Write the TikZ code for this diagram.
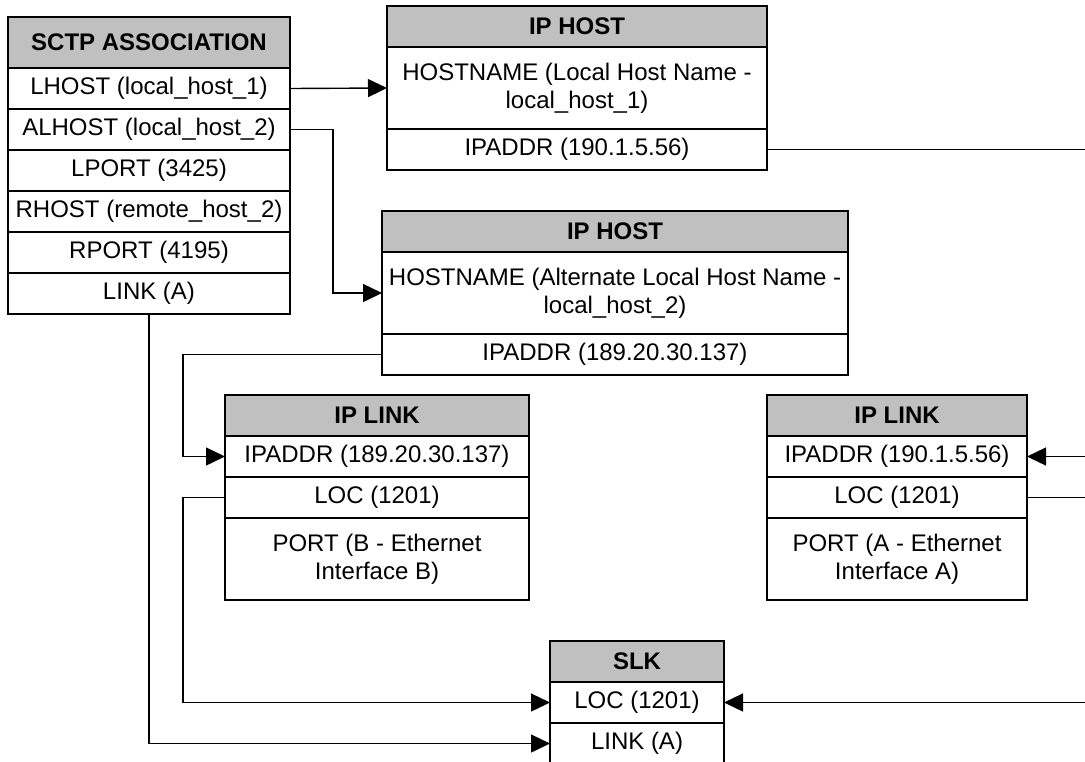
\documentclass[tikz,border=0pt]{standalone}
\usepackage{fontspec}
\setmainfont{Liberation Sans}
\usetikzlibrary{arrows.meta,positioning}
\definecolor{hdrgray}{RGB}{192,192,192}

\begin{document}
\begin{tikzpicture}[x=0.5pt, y=-0.5pt, >={Triangle[length=9.5pt,width=9pt]}, line width=0.7pt,
	cell/.style={draw, outer sep=0pt, inner sep=0pt, align=center, minimum width=#1,
		minimum height=20.5pt, font=\fontsize{12}{14}\selectfont},
	head/.style={cell=#1, fill=hdrgray, font=\fontsize{12}{14}\selectfont\bfseries},
	tall/.style={cell=#1, minimum height=41pt}]
	
	% frame of the picture
	\useasboundingbox (0,0) rectangle (1085,761);
	
	% sctp association
	\node[head=141pt, minimum height=25.5pt, anchor=north west] (sctp) at (8,17) {SCTP ASSOCIATION};
	\node[cell=141pt, below=0pt of sctp] (lhost) {LHOST (local\_host\_1)};
	\node[cell=141pt, below=0pt of lhost] (alhost) {ALHOST (local\_host\_2)};
	\node[cell=141pt, below=0pt of alhost] (lport) {LPORT (3425)};
	\node[cell=141pt, below=0pt of lport] (rhost) {RHOST (remote\_host\_2)};
	\node[cell=141pt, below=0pt of rhost] (rport) {RPORT (4195)};
	\node[cell=141pt, below=0pt of rport] (link) {LINK (A)};
	
	% ip host (local host)
	\node[head=190pt, anchor=north west] (host1) at (387,6) {IP HOST};
	\node[tall=190pt, below=0pt of host1] (hn1) {HOSTNAME (Local Host Name -\\local\_host\_1)};
	\node[cell=190pt, below=0pt of hn1] (ip1) {IPADDR (190.1.5.56)};
	
	% ip host (alternate local host)
	\node[head=233pt, anchor=north west] (host2) at (382,211) {IP HOST};
	\node[tall=233pt, below=0pt of host2] (hn2) {HOSTNAME (Alternate Local Host Name -\\local\_host\_2)};
	\node[cell=233pt, below=0pt of hn2] (ip2) {IPADDR (189.20.30.137)};
	
	% ip link B
	\node[head=152pt, anchor=north west] (linkB) at (225,395) {IP LINK};
	\node[cell=152pt, below=0pt of linkB] (ipaddrB) {IPADDR (189.20.30.137)};
	\node[cell=152pt, below=0pt of ipaddrB] (locB) {LOC (1201)};
	\node[tall=152pt, below=0pt of locB] (portB) {PORT (B - Ethernet\\Interface B)};
	
	% ip link A
	\node[head=130pt, anchor=north west] (linkA) at (767,395) {IP LINK};
	\node[cell=130pt, below=0pt of linkA] (ipaddrA) {IPADDR (190.1.5.56)};
	\node[cell=130pt, below=0pt of ipaddrA] (locA) {LOC (1201)};
	\node[tall=130pt, below=0pt of locA] (portA) {PORT (A - Ethernet\\Interface A)};
	
	% slk
	\node[head=87pt, anchor=north west] (slk) at (550,641) {SLK};
	\node[cell=87pt, below=0pt of slk] (slkloc) {LOC (1201)};
	\node[cell=87pt, below=0pt of slkloc] (slklink) {LINK (A)};
	
	% free ends at the right edge
	\coordinate (edgehost) at (ip1.east -| 1085,0);
	\coordinate (edgeaddr) at (ipaddrA.east -| edgehost);
	\coordinate (edgeloc) at (locA.east -| edgehost);
	\coordinate (edgeslk) at (slkloc.east -| edgehost);
	
	% connectors
	\draw[->] (lhost.east) -- (hn1.west);
	\draw[->] (alhost.east) -- ++(43,0) |- (hn2.west);
	\draw[->] (ip2.west) -- ++(-199,0) |- (ipaddrB.west);
	\draw (ip1.east) -- (edgehost);
	\draw[->] (edgeaddr) -- (ipaddrA.east);
	\draw (locA.east) -- (edgeloc);
	\draw[->] (locB.west) -- ++(-42,0) |- (slkloc.west);
	\draw[->] (edgeslk) -- (slkloc.east);
	\draw[->] (link.south) |- (slklink.west);
\end{tikzpicture}
\end{document}
